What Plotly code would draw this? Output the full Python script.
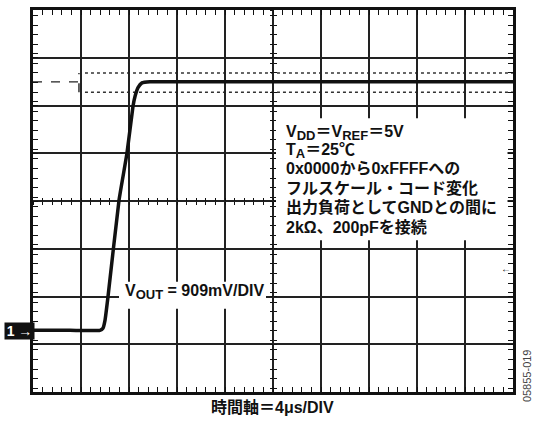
import plotly.graph_objects as go

# ---------------- data ----------------
time_us = [0.0, 3.08, 5.58, 5.83, 6.0, 6.25, 7.17, 7.83, 8.33, 8.5, 8.75, 9.08, 9.75, 40.0]
vout_V = [0.01, 0.01, 0.01, 0.05, 0.2, 0.65, 2.49, 3.38, 4.27, 4.46, 4.63, 4.72, 4.74, 4.74]

# cursor levels (V) and cursor time (us)
cursor_upper_V = 4.91
cursor_lower_V = 4.54
cursor_mid_V = 4.74
cursor_time_us = 3.83

volts_per_div = 0.909
us_per_div = 4.0
ground_div_from_bottom = 1.281

SUB = '<sub><span style="font-size:13px">{}</span></sub>'
info_lines = [
    "V" + SUB.format("DD") + "＝V" + SUB.format("REF") + "＝5V",
    "T" + SUB.format("A") + "＝25℃",
    "0x0000から0xFFFFへの",
    "フルスケール・コード変化",
    "出力負荷としてGNDとの間に",
    "2kΩ、200pFを接続",
]
vout_label = "V" + SUB.format("OUT") + " = 909mV/DIV"
time_label = "時間軸＝4μs/DIV"
fig_id = "05855-019"

# ---------------- layout helpers ----------------
W, H = 533, 421
L, R, T, B = 33, 20, 7, 29
PW, PH = W - L - R, H - T - B
def px_x(px):
    return (px - L) / PW
def px_y(py):
    return (H - B - py) / PH

FONT = "Liberation Sans, Arial, Noto Sans CJK JP, sans-serif"

y_lo = -ground_div_from_bottom * volts_per_div
y_hi = (8 - ground_div_from_bottom) * volts_per_div
x_rng = [0, 10 * us_per_div]
y_rng = [y_lo, y_hi]

fig = go.Figure()

fig.add_trace(go.Scatter(
    x=time_us, y=vout_V, mode="lines",
    line=dict(color="#111111", width=3.5, shape="spline", smoothing=0.4),
    hoverinfo="skip", showlegend=False,
))
# empty traces to attach the centre tick axes
for xa, ya in [("x2", "y"), ("x3", "y"), ("x", "y2"), ("x", "y3")]:
    fig.add_trace(go.Scatter(x=[None], y=[None], xaxis=xa, yaxis=ya,
                             showlegend=False, hoverinfo="skip"))

grid_col = "#222222"
fig.update_layout(
    width=W, height=H,
    margin=dict(l=L, r=R, t=T, b=B),
    paper_bgcolor="white", plot_bgcolor="white",
    font=dict(family=FONT, color="#111111", size=16),
    xaxis=dict(range=x_rng, dtick=us_per_div, tick0=0, showgrid=True,
               gridcolor=grid_col, gridwidth=1.7, zeroline=False,
               showline=True, linecolor="#111111", linewidth=3, mirror="allticks",
               ticks="inside", ticklen=5, tickcolor="#111111", tickwidth=1.2,
               minor=dict(dtick=us_per_div / 5, ticks="inside", ticklen=5,
                          tickcolor="#111111", tickwidth=1.2, showgrid=False),
               showticklabels=False, fixedrange=True),
    yaxis=dict(range=y_rng, dtick=volts_per_div, tick0=y_lo, showgrid=True,
               gridcolor=grid_col, gridwidth=1.7, zeroline=False,
               showline=True, linecolor="#111111", linewidth=3, mirror="allticks",
               ticks="inside", ticklen=5, tickcolor="#111111", tickwidth=1.2,
               minor=dict(dtick=volts_per_div / 5, ticks="inside", ticklen=5,
                          tickcolor="#111111", tickwidth=1.2, showgrid=False),
               showticklabels=False, fixedrange=True),
)
for name, tk in [("xaxis2", "outside"), ("xaxis3", "inside")]:
    fig.layout[name] = dict(overlaying="x", anchor="free", position=0.5, side="bottom",
                            range=x_rng, dtick=us_per_div, tick0=0, showgrid=False,
                            zeroline=False, showline=False, showticklabels=False,
                            ticks=tk, ticklen=3, tickcolor="#111111", tickwidth=1.2,
                            minor=dict(dtick=us_per_div / 5, ticks=tk, ticklen=3,
                                       tickcolor="#111111", tickwidth=1.2))
for name, tk in [("yaxis2", "outside"), ("yaxis3", "inside")]:
    fig.layout[name] = dict(overlaying="y", anchor="free", position=0.5, side="left",
                            range=y_rng, dtick=volts_per_div, tick0=y_lo, showgrid=False,
                            zeroline=False, showline=False, showticklabels=False,
                            ticks=tk, ticklen=3, tickcolor="#111111", tickwidth=1.2,
                            minor=dict(dtick=volts_per_div / 5, ticks=tk, ticklen=3,
                                       tickcolor="#111111", tickwidth=1.2))

shapes = []
# cursors
shapes.append(dict(type="line", xref="x", yref="y", x0=0, x1=us_per_div, y0=cursor_mid_V, y1=cursor_mid_V,
                   line=dict(color="#222222", width=1.4, dash="dash"), layer="below"))
shapes.append(dict(type="line", xref="x", yref="y", x0=cursor_time_us, x1=cursor_time_us,
                   y0=cursor_lower_V, y1=cursor_upper_V,
                   line=dict(color="#222222", width=1.4, dash="dash"), layer="below"))
for lvl in (cursor_upper_V, cursor_lower_V):
    shapes.append(dict(type="line", xref="x", yref="y", x0=cursor_time_us + 0.5, x1=x_rng[1],
                       y0=lvl, y1=lvl, line=dict(color="#333333", width=1.5, dash="dot"), layer="below"))
# white boxes behind the texts
shapes.append(dict(type="rect", xref="paper", yref="paper",
                   x0=px_x(276), x1=px_x(507.5), y0=px_y(239), y1=px_y(116),
                   fillcolor="white", line=dict(width=0), layer="above"))
shapes.append(dict(type="rect", xref="paper", yref="paper",
                   x0=px_x(119), x1=px_x(266), y0=px_y(308), y1=px_y(281),
                   fillcolor="white", line=dict(width=0), layer="above"))
fig.update_layout(shapes=shapes)

TXT_FONT = dict(size=16, family=FONT, color="#111111", weight="bold")
ann = []
line_centres = [131, 149, 167, 186, 206, 226]
for txt, cy in zip(info_lines, line_centres):
    ann.append(dict(text=txt, xref="paper", yref="paper", x=px_x(284), y=px_y(cy),
                    xanchor="left", yanchor="middle", showarrow=False, font=TXT_FONT))
ann.append(dict(text=vout_label, xref="paper", yref="paper", x=px_x(194), y=px_y(291),
                xanchor="center", yanchor="middle", showarrow=False, font=TXT_FONT))
ann.append(dict(text=time_label, xref="paper", yref="paper", x=px_x(272.5), y=px_y(408),
                xanchor="center", yanchor="middle", showarrow=False, font=TXT_FONT))
ann.append(dict(text=fig_id, xref="paper", yref="paper", x=px_x(527), y=px_y(376),
                xanchor="center", yanchor="middle", showarrow=False, textangle=-90,
                font=dict(size=11, family=FONT, color="#444444")))
ann.append(dict(text="<b>1 →</b>", xref="paper", yref="y", x=px_x(19.5), y=0,
                xanchor="center", yanchor="middle", showarrow=False,
                width=29, height=16, bgcolor="#111111", borderpad=0,
                font=dict(size=14, family=FONT, color="white")))
ann.append(dict(text="←", xref="paper", yref="paper", x=px_x(506), y=px_y(268),
                xanchor="center", yanchor="middle", showarrow=False,
                font=dict(size=10, family=FONT, color="#111111")))
fig.update_layout(annotations=ann)

fig.write_html("out.html", config={"displayModeBar": False},
               post_script="document.body.style.margin='0px';")
